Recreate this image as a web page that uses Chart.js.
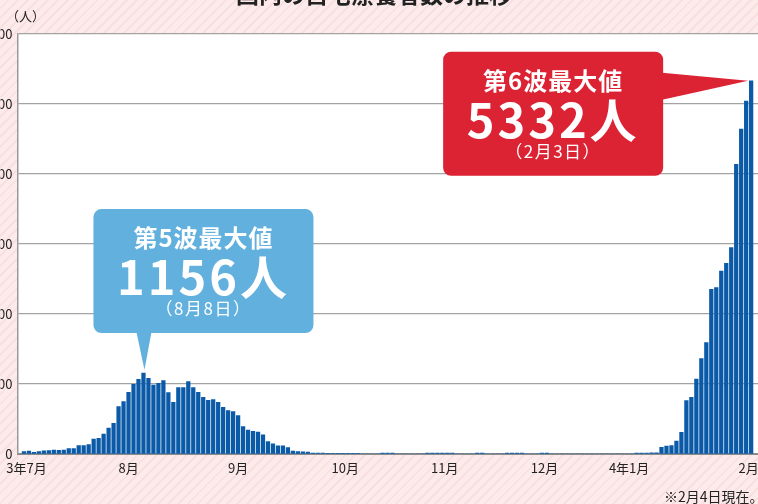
<!DOCTYPE html>
<html lang="ja">
<head>
<meta charset="utf-8">
<script src="https://cdn.jsdelivr.net/npm/chart.js@4.4.0/dist/chart.umd.min.js"></script>
<style>
html, body { margin: 0; padding: 0; }
body {
    width: 758px; height: 504px; overflow: hidden; position: relative;
    background: repeating-linear-gradient(135deg, #fdebeb 0px, #fdebeb 5px, #f9e0e0 5px, #f9e0e0 7px);
}
#wrap { position: absolute; left: 0; top: 0; width: 758px; height: 504px; overflow: hidden; }
canvas { position: absolute; left: 0; top: 0; }
</style>
</head>
<body>
<div id="wrap"><canvas id="chart" width="790" height="504"></canvas></div>
<script>
// 自宅療養者数 (3年7月 - 4年2月3日)
var cases = [
    33, 43, 24, 33, 45, 48, 57, 52, 57, 76,
    76, 119, 119, 133, 214, 224, 286, 371, 438, 676,
    748, 881, 995, 1067, 1156, 1081, 986, 1010, 1048, 879,
    738, 950, 948, 1036, 948, 881, 810, 766, 776, 738,
    667, 619, 605, 548, 390, 343, 324, 312, 274, 178,
    146, 117, 117, 90, 43, 33, 31, 29, 12, 12,
    12, 10, 10, 10, 10, 10, 8, 8, 0, 0,
    0, 0, 12, 12, 12, 0, 0, 0, 0, 0,
    0, 12, 12, 12, 12, 12, 12, 0, 0, 0,
    0, 12, 12, 0, 0, 0, 0, 12, 12, 12,
    12, 0, 0, 0, 12, 12, 0, 0, 0, 0,
    0, 0, 0, 0, 0, 0, 0, 0, 0, 0,
    0, 0, 0, 12, 12, 14, 18, 18, 95, 114,
    119, 186, 310, 762, 810, 1071, 1362, 1590, 2352, 2376,
    2614, 2724, 2948, 4138, 4643, 5043, 5332
];

var monthLabels = ["3年7月", "8月", "9月", "10月", "11月", "12月", "4年1月", "2月"];
var monthPos = [0.5, 21, 43, 64.5, 84.5, 104.5, 121.5, 145.5];

var waveNames = ["第5波最大値", "第6波最大値"];
var peakIndex = [24, 146];
var peakDates = ["（8月8日）", "（2月3日）"];
var waveColors = ["#62b0de", "#dc2334"];

var FONT = '"Noto Sans CJK JP", "Noto Sans", sans-serif';
Chart.defaults.font.family = FONT;

var fondBlanc = {
    id: "fondBlanc",
    beforeDraw: function (chart) {
        var ctx = chart.ctx, a = chart.chartArea;
        ctx.save();
        ctx.fillStyle = "#fff";
        ctx.fillRect(a.left, a.top, a.right - a.left, a.bottom - a.top);
        ctx.restore();
    }
};

function bulle(ctx, left, top, couleur, idx) {
    var cx = left + 110;
    ctx.fillStyle = couleur;
    ctx.beginPath();
    ctx.roundRect(left, top, 220, 124, 8);
    ctx.fill();
    ctx.fillStyle = "#fff";
    ctx.textAlign = "center";
    ctx.textBaseline = "alphabetic";
    ctx.font = "bold 24px " + FONT;
    ctx.letterSpacing = "1px";
    ctx.fillText(waveNames[idx], cx, top + 38);
    ctx.font = "bold 47px " + FONT;
    ctx.letterSpacing = "3px";
    ctx.fillText(cases[peakIndex[idx]] + "人", cx, top + 86);
    ctx.font = "17px " + FONT;
    ctx.letterSpacing = "1.5px";
    ctx.fillText(peakDates[idx], cx, top + 106);
    ctx.letterSpacing = "0px";
}

var textes = {
    id: "textes",
    afterDraw: function (chart) {
        var ctx = chart.ctx;
        var xs = chart.scales.x, ys = chart.scales.y;
        ctx.save();

        // titre (coupé en haut)
        ctx.fillStyle = "#222";
        ctx.textAlign = "center";
        ctx.textBaseline = "alphabetic";
        ctx.font = "bold 23px " + FONT;
        ctx.fillText("国内の自宅療養者数の推移", 374, 2.5);

        ctx.textAlign = "left";
        ctx.font = "13px " + FONT;
        ctx.fillText("（人）", 6, 20.5);
        ctx.font = "14px " + FONT;
        ctx.fillText("※2月4日現在。", 664, 502);

        // 第5波
        var t1x = xs.getPixelForValue(peakIndex[0]);
        var t1y = ys.getPixelForValue(cases[peakIndex[0]]) - 3;
        var top1 = t1y - 161;
        ctx.fillStyle = waveColors[0];
        ctx.beginPath();
        ctx.moveTo(t1x - 7, top1 + 123);
        ctx.lineTo(t1x + 8, top1 + 123);
        ctx.lineTo(t1x + 1, t1y);
        ctx.closePath();
        ctx.fill();
        bulle(ctx, t1x - 50, top1, waveColors[0], 0);

        // 第6波
        var t2x = xs.getPixelForValue(peakIndex[1]) - 3;
        var t2y = ys.getPixelForValue(cases[peakIndex[1]]);
        var right2 = t2x - 85;
        ctx.fillStyle = waveColors[1];
        ctx.beginPath();
        ctx.moveTo(right2 - 1, t2y - 8);
        ctx.lineTo(right2 - 1, t2y + 19);
        ctx.lineTo(t2x, t2y);
        ctx.closePath();
        ctx.fill();
        bulle(ctx, right2 - 220, t2y - 29, waveColors[1], 1);

        ctx.restore();
    }
};

new Chart(document.getElementById("chart"), {
    type: "bar",
    data: {
        datasets: [{
            data: cases.map(function (v, i) { return { x: i, y: v }; }),
            backgroundColor: "#0a5aa8",
            barThickness: 3.6
        }]
    },
    options: {
        responsive: false,
        animation: false,
        devicePixelRatio: 1,
        layout: { padding: { top: 34, left: 0, right: 0, bottom: 0 } },
        plugins: { legend: { display: false }, tooltip: { enabled: false } },
        scales: {
            x: {
                type: "linear",
                offset: false,
                min: -1.28,
                max: 153.8,
                grid: { display: false, drawTicks: false },
                border: { color: "#8c8c8c", width: 2 },
                afterBuildTicks: function (s) {
                    s.ticks = monthPos.map(function (v) { return { value: v }; });
                },
                afterFit: function (s) { s.height = 50; },
                ticks: {
                    autoSkip: false,
                    maxRotation: 0,
                    padding: 6,
                    color: "#222",
                    font: { size: 13 },
                    callback: function (v, i) { return monthLabels[i]; }
                }
            },
            y: {
                min: 0,
                max: 6000,
                afterFit: function (s) { s.width = 17; },
                grid: { color: "#a3a3a3", lineWidth: 1.2, drawTicks: false },
                border: { color: "#9a9a9a", width: 1.5 },
                ticks: {
                    stepSize: 1000,
                    padding: 5,
                    color: "#222",
                    font: { size: 13 },
                    callback: function (v) { return String(v); }
                }
            }
        }
    },
    plugins: [fondBlanc, textes]
});
</script>
</body>
</html>
